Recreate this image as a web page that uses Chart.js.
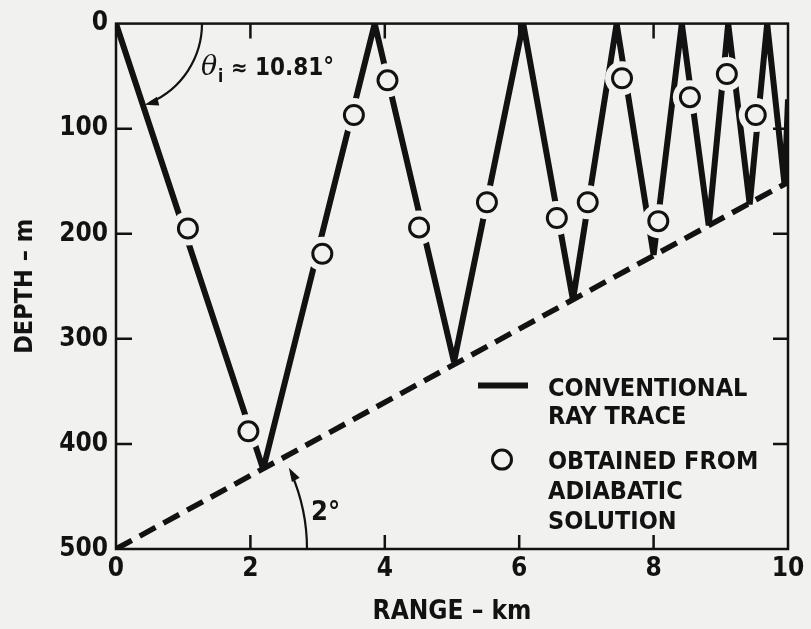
<!DOCTYPE html>
<html>
<head>
<meta charset="utf-8">
<title>Ray trace vs adiabatic solution</title>
<script src="https://cdn.jsdelivr.net/npm/chart.js@4.4.1/dist/chart.umd.min.js"></script>
<style>
  html, body { margin: 0; padding: 0; background: #f1f1ef; }
  canvas { display: block; }
</style>
</head>
<body>
<canvas id="rayChart" width="811" height="629"></canvas>
<script>
// conventional ray trace: surface / bottom turning points
const rayRange = [0, 2.19, 3.85, 5.03, 6.06, 6.80, 7.45, 8.00, 8.42, 8.82, 9.11, 9.43, 9.69, 9.95, 10.0];
const rayDepth = [0, 424, 0, 322, 0, 263, 0, 220, 0, 192, 0, 172, 0, 154, 72];

// sloping bottom (2 degrees)
const bottomRange = [0, 10];
const bottomDepth = [500, 151];

// points obtained from the adiabatic solution
const adiabaticRange = [1.07, 1.97, 3.07, 3.54, 4.04, 4.51, 5.52, 6.56, 7.02, 7.53, 8.07, 8.54, 9.09, 9.52];
const adiabaticDepth = [195, 388, 219, 87, 54, 194, 170, 185, 170, 52, 188, 70, 48, 87];

const rangeTicks = [0, 2, 4, 6, 8, 10];
const depthTicks = [0, 100, 200, 300, 400, 500];

const INK = '#121212';
const PAPER = '#f1f1ef';
const FONT = "'DejaVu Sans Condensed', 'DejaVu Sans', sans-serif";
const HALO = 17;

const toPoints = (xs, ys) => xs.map((x, i) => ({ x: x, y: ys[i] }));

function arrowHead(ctx, x, y, ang, len, wid) {
  ctx.save();
  ctx.translate(x, y);
  ctx.rotate(ang);
  ctx.beginPath();
  ctx.moveTo(0, 0);
  ctx.lineTo(-len, -wid / 2);
  ctx.lineTo(-len, wid / 2);
  ctx.closePath();
  ctx.fill();
  ctx.restore();
}

const paperPlugin = {
  id: 'paper',
  beforeDraw(chart) {
    const ctx = chart.ctx;
    ctx.save();
    ctx.fillStyle = PAPER;
    ctx.fillRect(0, 0, chart.width, chart.height);
    ctx.restore();
  },
  // clear a gap in the ray around every adiabatic circle
  beforeDatasetDraw(chart, args) {
    if (args.index !== 0) return;
    const ctx = chart.ctx;
    ctx.save();
    ctx.fillStyle = PAPER;
    args.meta.data.forEach(pt => {
      ctx.beginPath();
      ctx.arc(pt.x, pt.y, HALO, 0, Math.PI * 2);
      ctx.fill();
    });
    ctx.restore();
  },
  afterDatasetsDraw(chart) {
    const ctx = chart.ctx;
    const xs = chart.scales.x, ys = chart.scales.y;
    const a = chart.chartArea;
    ctx.save();
    ctx.strokeStyle = INK;
    ctx.fillStyle = INK;

    // frame
    ctx.lineWidth = 2.5;
    ctx.strokeRect(a.left, a.top, a.right - a.left, a.bottom - a.top);

    // inward tick marks on all four sides
    ctx.beginPath();
    rangeTicks.slice(1, -1).forEach(v => {
      const px = xs.getPixelForValue(v);
      ctx.moveTo(px, a.bottom); ctx.lineTo(px, a.bottom - 14);
      ctx.moveTo(px, a.top); ctx.lineTo(px, a.top + 15);
    });
    depthTicks.slice(1, -1).forEach(v => {
      const py = ys.getPixelForValue(v);
      ctx.moveTo(a.left, py); ctx.lineTo(a.left + 16, py);
      ctx.moveTo(a.right, py); ctx.lineTo(a.right - 15, py);
    });
    ctx.stroke();

    // incidence angle arc from the surface to the first ray
    const ox = xs.getPixelForValue(0), oy = ys.getPixelForValue(0);
    const rayAng = Math.atan2(ys.getPixelForValue(rayDepth[1]) - oy,
                              xs.getPixelForValue(rayRange[1]) - ox);
    const r1 = 86;
    ctx.lineWidth = 2.2;
    ctx.beginPath();
    ctx.arc(ox, oy, r1, 0, rayAng - 0.09, false);
    ctx.stroke();
    const tipAng1 = rayAng - 0.02;
    arrowHead(ctx, ox + r1 * Math.cos(tipAng1), oy + r1 * Math.sin(tipAng1),
              tipAng1 + Math.PI / 2 + 0.08, 14, 9);

    ctx.textBaseline = 'alphabetic';
    ctx.textAlign = 'left';
    ctx.font = "italic 27px 'DejaVu Serif', serif";
    ctx.fillText('\u03B8', ox + 85, oy + 51);
    ctx.font = 'bold 17px ' + FONT;
    ctx.fillText('i', ox + 102, oy + 58);
    ctx.font = 'bold 22px ' + FONT;
    ctx.fillText('\u2248', ox + 115, oy + 51);
    ctx.font = 'bold 24px ' + FONT;
    ctx.fillText('10.81\u00B0', ox + 139, oy + 51);

    // bottom slope arc
    const bx = xs.getPixelForValue(bottomRange[0]), by = ys.getPixelForValue(bottomDepth[0]);
    const slopeAng = Math.atan2(ys.getPixelForValue(bottomDepth[1]) - by,
                                xs.getPixelForValue(bottomRange[1]) - bx);
    const r2 = 191;
    ctx.beginPath();
    ctx.arc(bx, by, r2, 0, slopeAng + 0.09, true);
    ctx.stroke();
    const tipAng2 = slopeAng + 0.06;
    arrowHead(ctx, bx + r2 * Math.cos(tipAng2), by + r2 * Math.sin(tipAng2),
              tipAng2 - Math.PI / 2 - 0.08, 14, 9);
    ctx.font = 'bold 27px ' + FONT;
    ctx.fillText('2\u00B0', bx + 195, by - 29);

    // legend
    const lx = a.left + 362, ly = a.top + 362;
    ctx.lineWidth = 6;
    ctx.beginPath();
    ctx.moveTo(lx, ly); ctx.lineTo(lx + 50, ly);
    ctx.stroke();
    ctx.lineWidth = 3;
    ctx.fillStyle = PAPER;
    ctx.beginPath();
    ctx.arc(lx + 24, ly + 74, 9.5, 0, Math.PI * 2);
    ctx.fill();
    ctx.stroke();
    ctx.fillStyle = INK;
    ctx.font = 'bold 25px ' + FONT;
    const tx = lx + 70;
    ctx.fillText('CONVENTIONAL', tx, ly + 10);
    ctx.fillText('RAY TRACE', tx, ly + 38);
    ctx.fillText('OBTAINED FROM', tx, ly + 83);
    ctx.fillText('ADIABATIC', tx, ly + 113);
    ctx.fillText('SOLUTION', tx, ly + 143);
    ctx.restore();
  }
};

const ctx = document.getElementById('rayChart').getContext('2d');
const rayChart = new Chart(ctx, {
  type: 'scatter',
  data: {
    datasets: [
      {
        label: 'OBTAINED FROM ADIABATIC SOLUTION',
        data: toPoints(adiabaticRange, adiabaticDepth),
        pointRadius: 9.5,
        pointBorderWidth: 3,
        pointBorderColor: INK,
        pointBackgroundColor: PAPER,
        showLine: false,
        order: 1
      },
      {
        label: 'CONVENTIONAL RAY TRACE',
        data: toPoints(rayRange, rayDepth),
        showLine: true,
        borderColor: INK,
        borderWidth: 6,
        borderJoinStyle: 'bevel',
        pointRadius: 0,
        tension: 0,
        order: 2
      },
      {
        label: 'bottom',
        data: toPoints(bottomRange, bottomDepth),
        showLine: true,
        borderColor: INK,
        borderWidth: 5.5,
        borderDash: [18, 9],
        pointRadius: 0,
        order: 3
      }
    ]
  },
  options: {
    responsive: false,
    animation: false,
    devicePixelRatio: 1,
    layout: { padding: { left: 0, right: 23, top: 23, bottom: 0 } },
    plugins: {
      legend: { display: false },
      tooltip: { enabled: false }
    },
    scales: {
      x: {
        type: 'linear',
        min: 0,
        max: 10,
        afterFit(scale) { scale.height = 80; },
        afterBuildTicks(scale) { scale.ticks = rangeTicks.map(v => ({ value: v })); },
        grid: { display: false, drawTicks: false },
        border: { display: false },
        ticks: {
          color: INK,
          font: { family: FONT, size: 26, weight: 'bold' },
          padding: 5,
          autoSkip: false,
          maxRotation: 0
        },
        title: {
          display: true,
          text: 'RANGE \u2013 km',
          color: INK,
          font: { family: FONT, size: 26, weight: 'bold' },
          padding: { top: 0, bottom: 1 }
        }
      },
      y: {
        type: 'linear',
        reverse: true,
        min: 0,
        max: 500,
        afterFit(scale) { scale.width = 116; },
        afterBuildTicks(scale) { scale.ticks = depthTicks.map(v => ({ value: v })); },
        grid: { display: false, drawTicks: false },
        border: { display: false },
        ticks: {
          color: INK,
          font: { family: FONT, size: 26, weight: 'bold' },
          padding: 8,
          autoSkip: false
        },
        title: {
          display: true,
          text: 'DEPTH \u2013 m',
          color: INK,
          font: { family: FONT, size: 25, weight: 'bold' },
          padding: { top: 10, bottom: 0 }
        }
      }
    }
  },
  plugins: [paperPlugin]
});
</script>
</body>
</html>
